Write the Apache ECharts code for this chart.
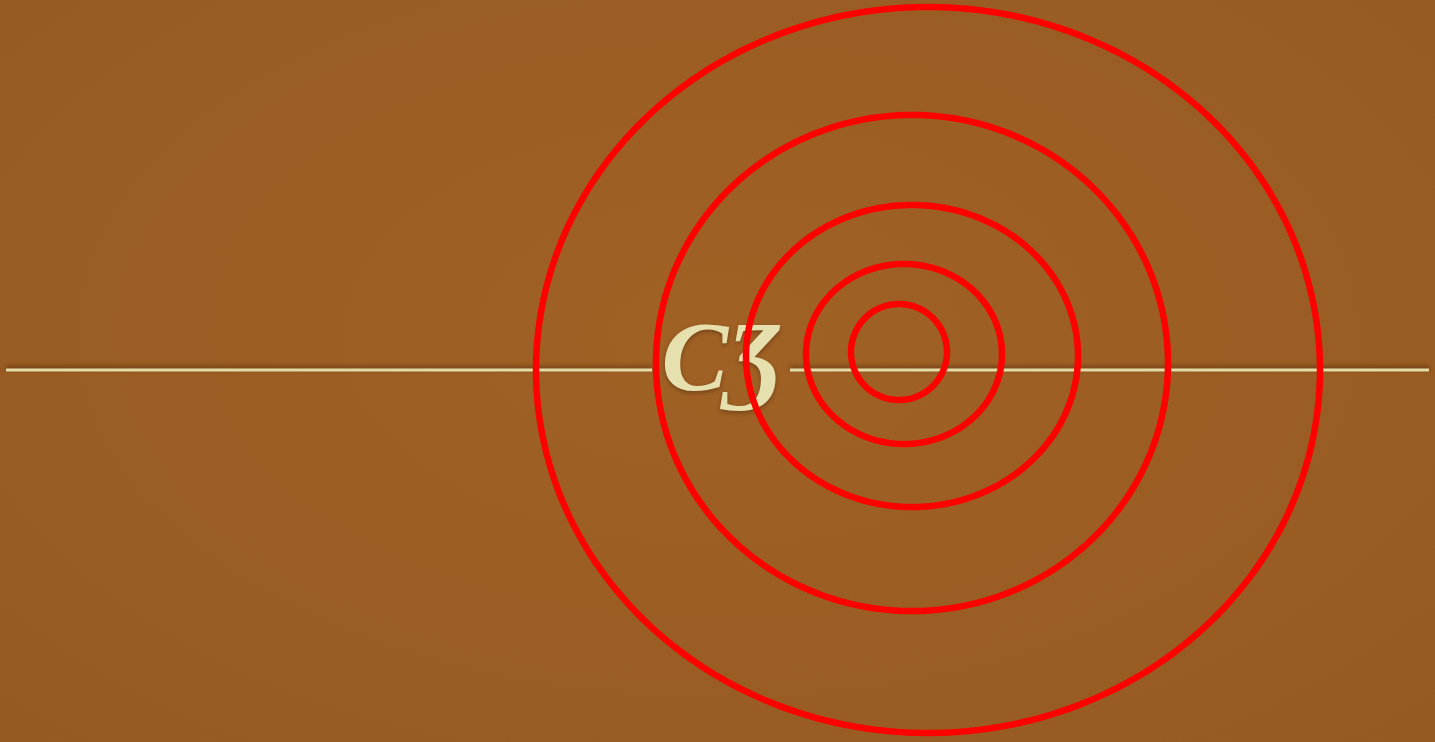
<!DOCTYPE html>
<html>
<head>
<meta charset="utf-8">
<script src="https://cdn.jsdelivr.net/npm/echarts@6/dist/echarts.min.js"></script>
<style>
html,body{margin:0;padding:0;width:100%;height:100%;overflow:hidden;}
#chart{width:1435px;height:742px;
background:#9b5d23;
background-image:radial-gradient(ellipse at 50% 45%, rgba(170,105,40,0.35), rgba(120,70,20,0.15));}
</style>
</head>
<body>
<div id="chart"></div>
<script>
// Ellipse rings (centre x, centre y, radius x, radius y) in chart units
var ringCx = [928, 912, 912, 904, 899];
var ringCy = [370, 363, 356, 354, 352];
var ringRx = [392, 256, 166, 98, 48];
var ringRy = [363, 248, 151, 90, 48];

// Divider rule segments
var ruleLeftX = [6, 652];
var ruleRightX = [790, 1429];
var ruleY = 370;

// Ornament glyph
var glyphText = 'CƷ';
var glyphPos = [722, 364];

var chart = echarts.init(document.getElementById('chart'), null, {renderer: 'canvas'});

var ruleData = [
  [ruleLeftX[0], ruleY], [ruleLeftX[1], ruleY], [null, null],
  [ruleRightX[0], ruleY], [ruleRightX[1], ruleY]
];

var ringData = ringCx.map(function (c, i) { return [c, ringCy[i], ringRx[i], ringRy[i]]; });

chart.setOption({
  backgroundColor: 'transparent',
  animation: false,
  grid: {left: 0, right: 0, top: 0, bottom: 0},
  xAxis: {type: 'value', min: 0, max: 1435, show: false},
  yAxis: {type: 'value', min: 0, max: 742, inverse: true, show: false},
  series: [
    {
      type: 'line',
      data: ruleData,
      connectNulls: false,
      symbol: 'none',
      silent: true,
      lineStyle: {color: '#e4dca6', width: 3, shadowColor: 'rgba(60,30,5,0.55)', shadowBlur: 4, shadowOffsetY: -2},
      z: 1
    },
    {
      type: 'scatter',
      data: [glyphPos],
      symbolSize: 0,
      silent: true,
      itemStyle: {opacity: 1},
      label: {
        show: true,
        position: 'inside',
        formatter: function () { return glyphText; },
        fontFamily: 'Liberation Serif',
        fontStyle: 'italic',
        fontWeight: 'bold',
        fontSize: 100,
        color: '#e6dfae',
        opacity: 1,
        textShadowColor: 'rgba(50,25,5,0.4)',
        textShadowBlur: 4,
        textShadowOffsetY: 2
      },
      z: 2
    },
    {
      type: 'custom',
      data: ringData,
      silent: true,
      renderItem: function (params, api) {
        var c = api.coord([api.value(0), api.value(1)]);
        var s = api.size([api.value(2), api.value(3)]);
        var pts = [];
        for (var k = 0; k < 240; k++) {
          var t = k / 240 * Math.PI * 2;
          pts.push([c[0] + s[0] * Math.cos(t), c[1] + s[1] * Math.sin(t)]);
        }
        return {
          type: 'polygon',
          shape: {points: pts},
          style: {fill: null, stroke: '#ff0000', lineWidth: 6.5}
        };
      },
      z: 3
    }
  ]
});
</script>
</body>
</html>
